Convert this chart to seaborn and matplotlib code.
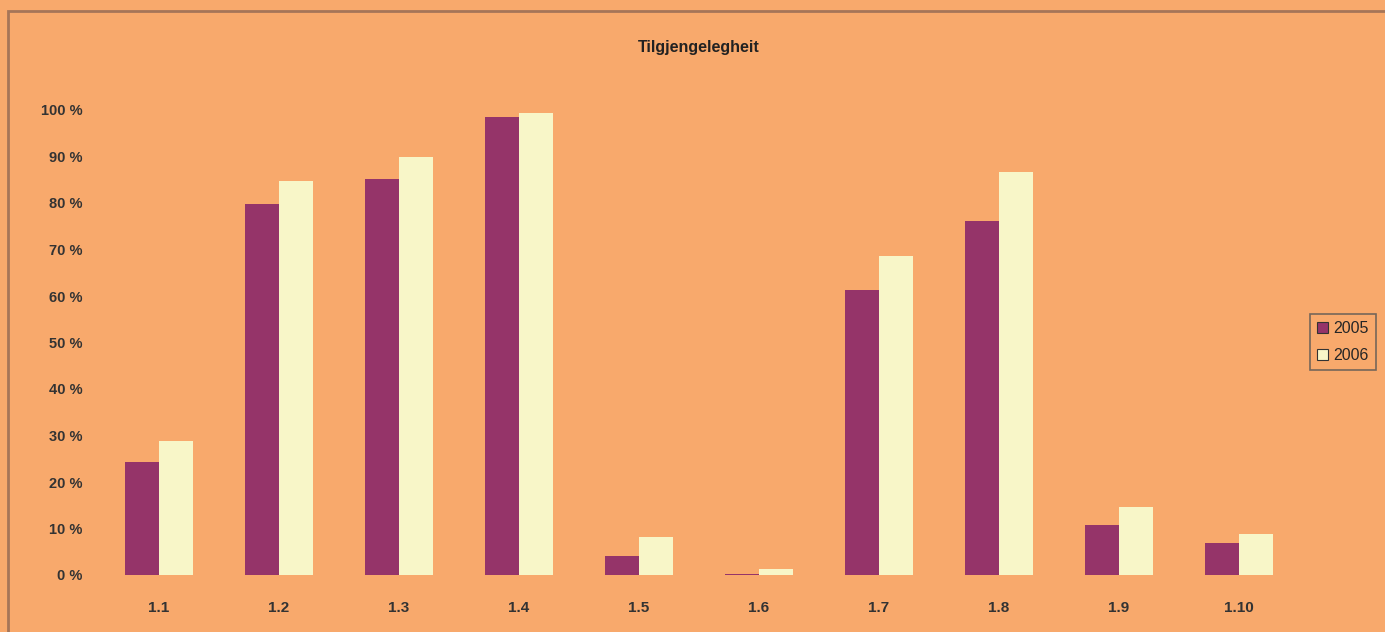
import matplotlib
matplotlib.use("Agg")
import matplotlib.pyplot as plt
import seaborn as sns
import pandas as pd
from matplotlib.patches import Rectangle

categories = ["1.1", "1.2", "1.3", "1.4", "1.5", "1.6", "1.7", "1.8", "1.9", "1.10"]
values_2005 = [24.3, 79.8, 85.2, 98.5, 4.1, 0.3, 61.3, 76.1, 10.8, 6.9]
values_2006 = [28.8, 84.7, 89.9, 99.4, 8.2, 1.3, 68.6, 86.7, 14.6, 8.8]
series = ["2005", "2006"]
yticks = [0, 10, 20, 30, 40, 50, 60, 70, 80, 90, 100]
ytick_labels = [f"{v} %" for v in yticks]

df = pd.DataFrame({
    "cat": categories * 2,
    "val": values_2005 + values_2006,
    "year": [series[0]] * len(categories) + [series[1]] * len(categories),
})

bg = "#F8A96C"
sns.set_theme(style="white")
plt.rcParams["font.family"] = ["Liberation Sans", "DejaVu Sans"]

fig = plt.figure(figsize=(13.85, 6.32), dpi=100)
fig.patch.set_facecolor(bg)
ax = fig.add_axes([99 / 1385, 1 - 575 / 632, 1200 / 1385, (575 - 110) / 632])
ax.set_facecolor(bg)

sns.barplot(data=df, x="cat", y="val", hue="year", order=categories,
            hue_order=series, palette=["#953469", "#F8F6C8"], width=0.57,
            saturation=1, linewidth=0, ax=ax)

ax.set_ylim(0, 100)
ax.set_xlim(-0.5, len(categories) - 0.5)
ax.set_yticks(yticks)
ax.set_yticklabels(ytick_labels, fontsize=10.5, fontweight="bold", color="#333333")
ax.set_xticks(range(len(categories)))
ax.set_xticklabels(categories, fontsize=11, fontweight="bold", color="#333333")
ax.tick_params(axis="y", length=0, pad=12)
ax.tick_params(axis="x", length=0, pad=19)
ax.set_xlabel("")
ax.set_ylabel("")
for s in ax.spines.values():
    s.set_visible(False)

ax.set_title("Tilgjengelegheit", fontsize=11.5, fontweight="bold", color="#222222", pad=42)

leg = ax.legend(loc="center left", bbox_to_anchor=(1310 / 1385, 1 - 342 / 632),
                bbox_transform=fig.transFigure, frameon=True, fontsize=11.5,
                handlelength=0.7, handleheight=0.7, handletextpad=0.3,
                borderpad=0.45, labelspacing=0.75, borderaxespad=0, fancybox=False)
leg.get_frame().set_facecolor(bg)
leg.get_frame().set_edgecolor("#555555")
leg.get_frame().set_linewidth(1.2)
for h in leg.legend_handles:
    h.set_edgecolor("#333333")
    h.set_linewidth(0.8)

fig.patches.append(Rectangle((8 / 1385, -0.1), 1.2, 1 - 11 / 632 + 0.1,
                             transform=fig.transFigure, fill=False,
                             edgecolor="#A57558", linewidth=2.0))

fig.savefig("out.png", dpi=100, facecolor=bg)
